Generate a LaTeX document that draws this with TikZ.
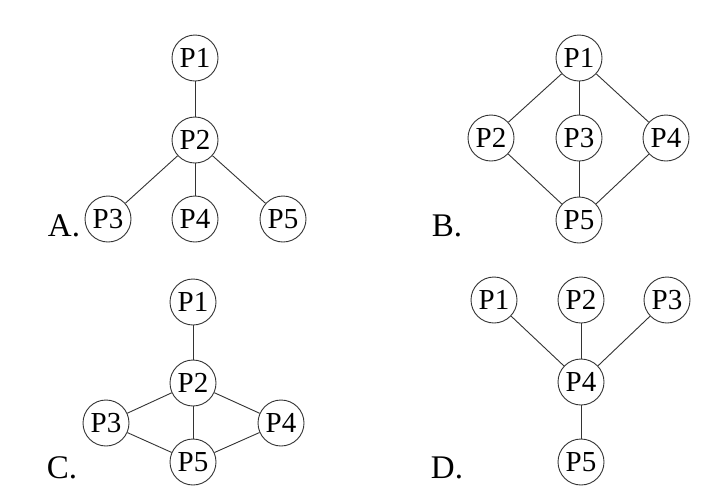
\documentclass[tikz,border=0pt]{standalone}
\usepackage{fontspec}
\setmainfont{Liberation Serif}
\begin{document}
\begin{tikzpicture}[x=1pt,y=-1pt,
  proc/.style={circle,draw=black!80,line width=0.9pt,inner sep=0pt,minimum size=46pt,font=\fontsize{29}{32}\selectfont},
  edge/.style={draw=black!80,line width=0.9pt},
  optlabel/.style={font=\fontsize{33}{36}\selectfont,inner sep=0pt}]
\useasboundingbox[fill=white] (0,0) rectangle (727,499);
% A
\node[proc] (a1) at (195,58) {P1};
\node[proc] (a2) at (195,140) {P2};
\node[proc] (a3) at (108,219) {P3};
\node[proc] (a4) at (195,219) {P4};
\node[proc] (a5) at (283,219) {P5};
\node[optlabel] (la) at (64,226) {A.};
\draw[edge] (a1) -- (a2);
\draw[edge] (a2) -- (a3);
\draw[edge] (a2) -- (a4);
\draw[edge] (a2) -- (a5);
% B
\node[proc] (b1) at (579,58) {P1};
\node[proc] (b2) at (491,138) {P2};
\node[proc] (b3) at (579,138) {P3};
\node[proc] (b4) at (666,138) {P4};
\node[proc] (b5) at (579,220) {P5};
\node[optlabel] (lb) at (447,226) {B.};
\draw[edge] (b1) -- (b2);
\draw[edge] (b1) -- (b3);
\draw[edge] (b1) -- (b4);
\draw[edge] (b2) -- (b5);
\draw[edge] (b3) -- (b5);
\draw[edge] (b4) -- (b5);
% C
\node[proc] (c1) at (193,302) {P1};
\node[proc] (c2) at (193,383) {P2};
\node[proc] (c3) at (106,423) {P3};
\node[proc] (c4) at (281,423) {P4};
\node[proc] (c5) at (193,462) {P5};
\node[optlabel] (lc) at (62,468) {C.};
\draw[edge] (c1) -- (c2);
\draw[edge] (c2) -- (c3);
\draw[edge] (c2) -- (c4);
\draw[edge] (c2) -- (c5);
\draw[edge] (c3) -- (c5);
\draw[edge] (c4) -- (c5);
% D
\node[proc] (d1) at (494,300) {P1};
\node[proc] (d2) at (581,300) {P2};
\node[proc] (d3) at (667,300) {P3};
\node[proc] (d4) at (581,382) {P4};
\node[proc] (d5) at (581,462) {P5};
\node[optlabel] (ld) at (447,468) {D.};
\draw[edge] (d1) -- (d4);
\draw[edge] (d2) -- (d4);
\draw[edge] (d3) -- (d4);
\draw[edge] (d4) -- (d5);
\end{tikzpicture}
\end{document}
